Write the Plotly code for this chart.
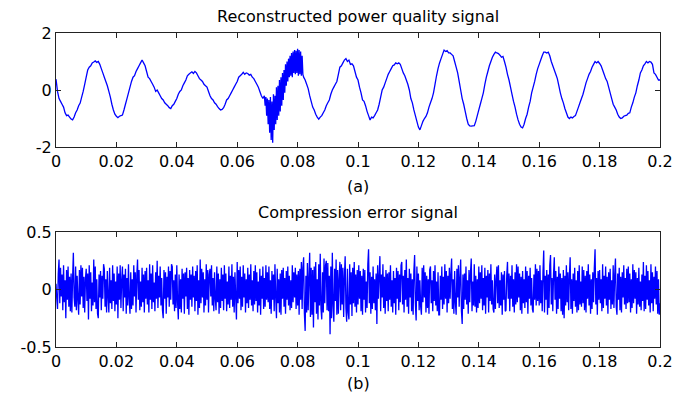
import numpy as np
import plotly.graph_objects as go

# ---------------- data ----------------
# Reconstructed power quality signal, values in hundredths.
# Part A: 0 .. 68.5 ms, one sample every 0.5 ms
top_a_step = 0.0005
top_a_start = 0.0
top_a_centi = [
    38, -5, -30, -40, -50, -60, -80, -90, -88, -95, -102, -105, -95, -80, -70, -55, -46, -25, -5, 20,
    45, 70, 80, 85, 95, 98, 102, 97, 100, 90, 75, 60, 45, 30, 15, -5, -25, -50, -70, -85,
    -92, -97, -92, -90, -88, -70, -50, -30, -10, 10, 30, 45, 50, 65, 75, 85, 95, 105, 95, 85,
    65, 45, 40, 30, 20, 10, -5, 0, -10, -20, -30, -35, -45, -50, -55, -62, -65, -55, -50, -40,
    -30, -15, -5, 0, 15, 25, 35, 50, 55, 60, 64, 58, 65, 60, 50, 40, 35, 30, 20, 15,
    10, -5, -20, -30, -35, -45, -50, -58, -65, -70, -68, -62, -50, -35, -30, -20, -10, 0, 10, 20,
    30, 45, 50, 55, 62, 55, 60, 58, 52, 55, 45, 40, 30, 20, 10, -5, -20, -30,
]
# Part B: disturbance, 69 .. 81.75 ms, one sample every 0.25 ms
top_b_step = 0.00025
top_b_start = 0.069
top_b_centi = [
    -20, -55, -25, -90, -30, -120, -35, -150, -25, -175, -40, -185, -15, -140, -20, -120,
    10, -105, 15, -90, 35, -75, 45, -55, 60, -35, 70, -10, 90, 15, 100, 30,
    110, 45, 120, 50, 130, 45, 135, 60, 140, 55, 138, 60, 145, 50, 140, 55,
    135, 50, 120, 55,
]
# Part C: 82 .. 200 ms, one sample every 0.5 ms
top_c_step = 0.0005
top_c_start = 0.082
top_c_centi = [
    45, 35, 20, 5, -20, -40, -60, -70, -85, -95, -102, -95, -90, -80, -70, -55,
    -45, -35, -15, 0, 10, 20, 30, 55, 80, 85, 95, 105, 110, 100, 105, 90, 92, 85, 65, 45,
    35, 10, -10, -35, -40, -55, -75, -90, -105, -95, -98, -90, -80, -70, -50, -25, 0, 10, 25, 40,
    55, 65, 75, 85, 88, 95, 92, 95, 90, 75, 60, 50, 35, 20, 0, -30, -45, -70, -90, -110,
    -130, -140, -125, -110, -100, -93, -80, -60, -45, -30, -10, 20, 50, 75, 95, 110, 125, 140, 135, 138,
    130, 130, 125, 120, 100, 80, 60, 30, 0, -30, -50, -75, -100, -120, -126, -127, -126, -125, -110, -90,
    -70, -50, -30, -10, 20, 45, 65, 85, 100, 115, 125, 133, 130, 128, 122, 115, 118, 100, 80, 55,
    35, 10, -15, -40, -60, -85, -105, -120, -130, -133, -120, -100, -85, -60, -40, -10, 10, 30, 55, 75,
    90, 105, 120, 133, 133, 130, 133, 120, 100, 85, 70, 55, 40, 15, -10, -30, -45, -65, -80, -95,
    -100, -95, -98, -93, -90, -75, -60, -45, -30, -15, 5, 25, 40, 55, 65, 80, 90, 100, 95, 100,
    93, 85, 70, 55, 40, 30, 10, -10, -30, -50, -60, -70, -85, -95, -100, -98, -92, -90, -88, -82,
    -80, -60, -45, -25, -10, 15, 35, 60, 70, 85, 92, 100, 95, 100, 98, 90, 60, 55, 45, 35,
    35,
]

# Compression error signal, values in hundredths, one sample every 0.25 ms (5 ms per row)
err_step = 0.00025
err_centi = [
    5, -8, -17, 14, 26, -12, 19, -6, 13, -18, 21, -11, 8, -25, 17, -9, 20, -15, 11, -19,
    14, -20, 10, 32, -7, -15, 20, -18, 12, -9, -22, 17, -13, 21, -6, 19, -16, 11, -20, 9,
    18, -10, 14, -26, 21, -8, 15, -19, 6, -14, 26, -11, 20, -17, 9, -21, -25, 13, -7, 16,
    -18, 12, -8, 22, 18, -15, 9, -20, 16, -6, -20, 19, -12, 8, -17, 21, -10, 14, -19, 7,
    -13, 20, -25, 14, -9, 21, -16, 8, 20, -19, 13, -7, 18, -21, 10, -14, 22, -8, -21, 15,
    -17, 9, -14, 21, -6, 15, -20, 12, 26, -9, 17, -18, 7, -15, 19, -11, 13, -20, 16, -8,
    19, -13, 8, -20, 22, -9, 14, -17, 21, -11, 6, -19, 15, -8, 25, -16, 12, -7, 20, -14,
    10, -18, -25, 17, -8, 15, -21, 11, -7, 20, -15, 16, -9, 22, 20, -13, 8, -19, 13, -16,
    21, -11, -26, 13, -17, 9, -20, 18, -8, 14, -21, 15, -6, 19, -17, 10, -22, 17, -9, 13,
    -15, 20, -7, 12, -19, 16, -10, 21, -22, 8, -16, 26, -12, 18, -7, 15, -20, 9, -14, 22,
    -9, 17, -20, 13, 18, -6, 21, -14, 10, -19, 15, -8, -18, 20, -11, 14, -21, 9, -16, 19,
    -10, 13, -18, 21, -8, 14, -19, 7, -13, 20, -16, 12, -9, 22, -15, 11, -20, 15, -7, -26,
    24, -12, 17, -8, 20, -18, 11, -15, 21, -7, 14, -20, 9, -12, 19, -16, 13, -9, 22, -14,
    8, -19, 16, -13, 21, -10, 15, -20, 7, -14, 18, -22, 12, -8, 20, -17, 10, -15, 21, -9,
    15, -11, 20, -17, 8, -21, 16, -9, 13, -19, 22, -7, -25, 18, -12, 9, -20, 14, -22, 17,
    -8, 19, -15, 10, -21, 16, -9, 20, -14, 12, -18, 8, -16, 21, -11, 15, -7, 19, -17, 13,
    -14, 16, -22, 18, -9, 24, -17, 19, 28, -21, -36, 12, -20, 23, -18, 10, 32, -24, 19, -22,
    17, -33, 20, -11, 24, -21, 9, -26, 22, -14, 31, -17, -26, 15, -20, 27, -12, 21, 25, -18,
    23, -19, 12, -39, 20, -25, 32, -14, -28, 18, -10, 26, -22, 17, -21, 9, 24, -18, 22, -13,
    19, -24, 11, 29, -16, -28, 18, -20, -26, 22, -13, 15, -23, 19, -12, 24, -15, 13, -20, 17,
    -13, 21, -8, 16, -19, 12, -22, 18, -9, 17, -20, 7, -16, 22, 35, -12, 15, -21, 11, -17,
    20, -12, 9, -18, 14, -30, 21, -8, 12, 29, -19, 13, -7, 22, -16, 11, -21, 17, -10, 14,
    -19, 15, -9, 21, -15, 8, -20, 16, -12, 10, -22, 19, -8, 16, -18, 13, -11, 21, 24, -13,
    12, -20, 17, -9, 26, -15, 10, -21, 18, -7, 14, -19, 9, -22, 16, 30, -12, -27, 20, -10,
    14, -18, 8, -15, -22, 19, -11, 21, -7, 15, -20, 12, -16, 9, -21, 17, 20, -12, 8, -19,
    16, -10, 21, -14, 7, -19, 15, -22, -22, 12, -9, 20, -17, 11, -13, 22, -8, 16, -20, 12,
    -12, 19, -8, 14, 27, -17, 9, -21, 16, -11, -22, 18, -7, 21, -15, 10, 26, -19, -30, 13,
    -17, 14, -9, 20, -13, 8, -21, 17, -11, 15, 27, -19, 7, -14, 22, -15, 12, -20, 9, -16,
    20, -12, 15, -8, 21, -18, 10, -14, 19, -21, 12, -7, 17, -20, 14, -10, 22, -13, 8, -17,
    -20, 13, -17, 9, 20, -12, 21, -16, 8, -14, 15, -22, 13, -9, 16, -19, -18, 12, 24, -8,
    14, -19, 12, -8, 21, -15, 9, -20, 15, -13, 22, -11, 20, -7, 14, -18, 11, -21, 16, -12,
    9, -16, 20, -11, 16, -21, 12, -8, 19, -14, 10, -17, -20, 13, -9, 22, -14, 18, -10, 16,
    -14, 21, -12, 8, -19, 15, 34, -20, 12, -9, 17, -22, 13, -16, 21, 30, -13, 10, -19, 14,
    28, -9, 16, -21, 11, -17, 20, -8, 14, -19, 10, -22, 17, -25, 12, -14, 21, -11, 15, -18,
    12, 28, -17, 9, -21, 14, -10, 19, -15, 8, -20, 16, -18, 21, -13, 7, -15, 20, -12, 17,
    -18, 12, -20, 16, -8, 22, -14, 13, -21, 9, -17, 15, -11, 19, 35, -13, 10, -22, 16, -9,
    17, -12, 9, -19, 22, -16, 12, -8, 20, -14, 11, -21, 15, -9, 18, -17, 8, -13, 21, -16,
    13, 27, -15, -22, 14, -9, 19, -18, 11, -20, 15, -7, 21, -13, 10, -17, 18, -12, 20, -11,
    14, -20, 9, -16, 22, -12, 17, -8, 15, -21, 10, -13, 19, -15, 7, -18, 13, -10, 24, -19,
    12, -17, 21, -9, 16, -14, 8, -20, 22, -12, 15, -19, 11, -8, 20, -13, 16, -21, 9, -22,
    -12,
]

x_tick_vals = [0, 0.02, 0.04, 0.06, 0.08, 0.1, 0.12, 0.14, 0.16, 0.18, 0.2]
x_tick_text = ["0", "0.02", "0.04", "0.06", "0.08", "0.1", "0.12", "0.14", "0.16", "0.18", "0.2"]
top_y_tick_vals = [-2, 0, 2]
top_y_tick_text = ["-2", "0", "2"]
bot_y_tick_vals = [-0.5, 0, 0.5]
bot_y_tick_text = ["-0.5", "0", "0.5"]

top_title = "Reconstructed power quality signal"
bot_title = "Compression error signal"
top_caption = "(a)"
bot_caption = "(b)"

# ---------------- figure ----------------
def seg_times(start, step, values):
    return start + np.arange(len(values)) * step


top_t = np.concatenate([seg_times(top_a_start, top_a_step, top_a_centi),
                        seg_times(top_b_start, top_b_step, top_b_centi),
                        seg_times(top_c_start, top_c_step, top_c_centi)])
top_y = np.array(top_a_centi + top_b_centi + top_c_centi) / 100.0
bot_y = np.array(err_centi) / 100.0
bot_t = seg_times(0.0, err_step, err_centi)

BLUE = "#0000ff"
FONT = "DejaVu Sans, Verdana, sans-serif"
FS = 16

fig = go.Figure()
fig.add_trace(go.Scatter(x=top_t, y=top_y, mode="lines",
                         line=dict(color=BLUE, width=1.3, simplify=False), xaxis="x", yaxis="y",
                         showlegend=False, hoverinfo="skip"))
fig.add_trace(go.Scatter(x=bot_t, y=bot_y, mode="lines",
                         line=dict(color=BLUE, width=1.3, simplify=False), xaxis="x2", yaxis="y2",
                         showlegend=False, hoverinfo="skip"))

W, H = 690, 396
L, R = 56, 660
top_box = (33, 147)
bot_box = (232, 347)


def ydom(box):
    return [(H - box[1]) / H, (H - box[0]) / H]


axis_common = dict(showline=True, linecolor="#222222", linewidth=1, mirror="allticks",
                   ticks="inside", ticklen=5, tickcolor="#222222", tickwidth=1,
                   showgrid=False, zeroline=False, automargin=False,
                   tickfont=dict(family=FONT, size=FS, color="black"))

fig.update_layout(
    width=W, height=H,
    margin=dict(l=0, r=0, t=0, b=0),
    paper_bgcolor="white", plot_bgcolor="white",
    font=dict(family=FONT, size=FS, color="black"),
    xaxis=dict(domain=[L / W, R / W], range=[0, 0.2], anchor="y",
               tickvals=x_tick_vals, ticktext=x_tick_text, **axis_common),
    yaxis=dict(domain=ydom(top_box), range=[-2, 2], anchor="x",
               tickvals=top_y_tick_vals, ticktext=top_y_tick_text, **axis_common),
    xaxis2=dict(domain=[L / W, R / W], range=[0, 0.2], anchor="y2",
                tickvals=x_tick_vals, ticktext=x_tick_text, **axis_common),
    yaxis2=dict(domain=ydom(bot_box), range=[-0.5, 0.5], anchor="x2",
                tickvals=bot_y_tick_vals, ticktext=bot_y_tick_text, **axis_common),
)

cx = (L + R) / 2 / W
for text, ypx in [(top_title, 16), (top_caption, 186), (bot_title, 212), (bot_caption, 383)]:
    fig.add_annotation(text=text, x=cx, y=(H - ypx) / H, xref="paper", yref="paper",
                       xanchor="center", yanchor="middle", showarrow=False,
                       font=dict(family=FONT, size=FS, color="black"))

fig.write_html("out.html", config={"displayModeBar": False},
               post_script="document.body.style.margin='0';document.body.style.overflow='hidden';")
